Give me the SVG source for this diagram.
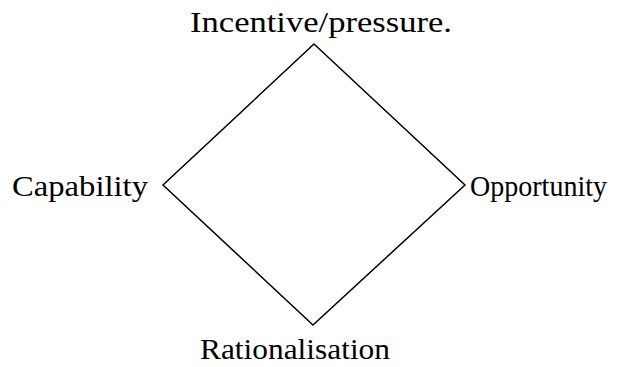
<svg xmlns="http://www.w3.org/2000/svg" width="635" height="367" viewBox="0 0 635 367">
<style>
.lbl{font-family:"Liberation Serif","DejaVu Serif",serif;font-size:29px;fill:#000}
.edge{fill:none;stroke:#000;stroke-width:1.5}
</style>
<rect width="635" height="367" fill="#fff"/>
<g id="connectors">
<polygon class="edge" points="314,44 465,185 313,325 163,185"/>
</g>
<g id="node-incentive"><text class="lbl" x="190" y="32" textLength="262" lengthAdjust="spacingAndGlyphs">Incentive/pressure.</text></g>
<g id="node-capability"><text class="lbl" x="12" y="196" textLength="136" lengthAdjust="spacingAndGlyphs">Capability</text></g>
<g id="node-opportunity"><text class="lbl" x="470" y="196" textLength="137" lengthAdjust="spacingAndGlyphs">Opportunity</text></g>
<g id="node-rationalisation"><text class="lbl" x="200" y="359" textLength="190" lengthAdjust="spacingAndGlyphs">Rationalisation</text></g>
</svg>
